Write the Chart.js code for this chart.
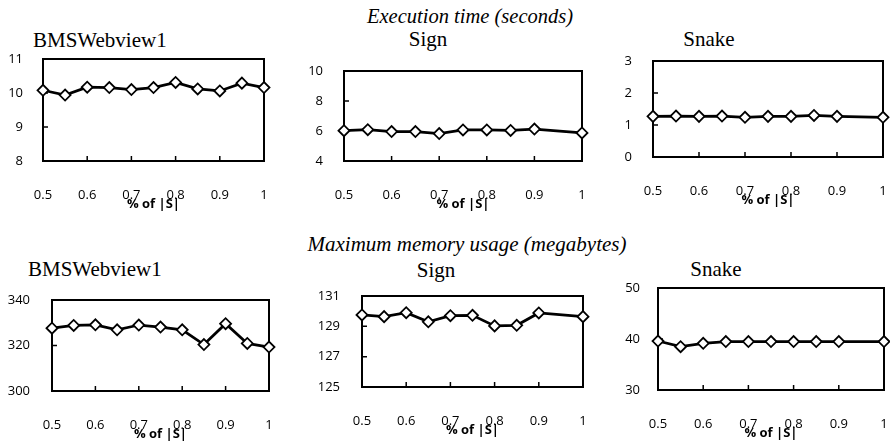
<!DOCTYPE html>
<html>
<head>
<meta charset="utf-8">
<script src="https://cdn.jsdelivr.net/npm/chart.js@4"></script>
<style>
body { margin: 0; background: #fff; width: 890px; height: 443px; overflow: hidden; position: relative; }
canvas { position: absolute; }
.t { position: absolute; font-family: "Liberation Serif", serif; font-size: 21px; line-height: 21px; color: #000; white-space: nowrap; }
.c { width: 400px; text-align: center; }
.i { font-style: italic; }
</style>
</head>
<body>
<div class="t c i" style="left:270px; top:6px; font-size:20.5px; line-height:20.5px;">Execution time (seconds)</div>
<div class="t c i" style="left:267px; top:234px;">Maximum memory usage (megabytes)</div>
<div class="t" style="left:33px; top:30px;">BMSWebview1</div>
<div class="t c" style="left:228px; top:29px;">Sign</div>
<div class="t c" style="left:509px; top:29px;">Snake</div>
<div class="t" style="left:28px; top:259px;">BMSWebview1</div>
<div class="t c" style="left:236px; top:260px;">Sign</div>
<div class="t c" style="left:516px; top:259px;">Snake</div>

<canvas id="bmsTime"></canvas>
<canvas id="signTime"></canvas>
<canvas id="snakeTime"></canvas>
<canvas id="bmsMem"></canvas>
<canvas id="signMem"></canvas>
<canvas id="snakeMem"></canvas>

<script>
// % of |S|
const xAll = [0.5, 0.55, 0.6, 0.65, 0.7, 0.75, 0.8, 0.85, 0.9, 0.95, 1];
const xNo95 = [0.5, 0.55, 0.6, 0.65, 0.7, 0.75, 0.8, 0.85, 0.9, 1];
const xTicks = [0.5, 0.6, 0.7, 0.8, 0.9, 1];

// execution time (seconds)
const bmsTime = [10.08, 9.94, 10.17, 10.16, 10.1, 10.16, 10.31, 10.12, 10.06, 10.29, 10.16];
const signTime = [6.02, 6.09, 5.96, 5.96, 5.83, 6.07, 6.07, 6.04, 6.13, 5.87];
const snakeTime = [1.27, 1.28, 1.27, 1.28, 1.24, 1.27, 1.27, 1.3, 1.27, 1.24];

// max memory (megabytes)
const bmsMem = [327.6, 328.8, 329.1, 326.9, 329.0, 328.1, 326.9, 320.4, 329.6, 320.9, 319.3];
const signMem = [129.75, 129.64, 129.9, 129.3, 129.7, 129.73, 129.03, 129.07, 129.88, 129.64];
const snakeMem = [39.6, 38.5, 39.15, 39.5, 39.5, 39.5, 39.5, 39.5, 39.5, 39.5];

const bmsTimeTicks = [8, 9, 10, 11];
const signTimeTicks = [4, 6, 8, 10];
const snakeTimeTicks = [0, 1, 2, 3];
const bmsMemTicks = [300, 320, 340];
const signMemTicks = [125, 127, 129, 131];
const snakeMemTicks = [30, 40, 50];

const Y_W = 50, PAD_TOP = 15, PAD_RIGHT = 10, X_H = 55;

// plot box: left, top, right, bottom
const panels = [
    { id: "bmsTime", xs: xAll, ys: bmsTime, yTicks: bmsTimeTicks, box: [43, 59, 264, 161], gap: 20 },
    { id: "signTime", xs: xNo95, ys: signTime, yTicks: signTimeTicks, box: [344, 71, 582, 161], gap: 21 },
    { id: "snakeTime", xs: xNo95, ys: snakeTime, yTicks: snakeTimeTicks, box: [653, 61, 883, 157], gap: 21 },
    { id: "bmsMem", xs: xAll, ys: bmsMem, yTicks: bmsMemTicks, box: [52, 300, 269, 391], gap: 22 },
    { id: "signMem", xs: xNo95, ys: signMem, yTicks: signMemTicks, box: [362, 296, 583, 387], gap: 22 },
    { id: "snakeMem", xs: xNo95, ys: snakeMem, yTicks: snakeMemTicks, box: [658, 288, 884, 390], gap: 18 }
];

// Excel-like frame with small inward tick marks
const frame = {
    id: "frame",
    beforeDatasetsDraw(chart) {
        const { ctx, chartArea: a, scales: { x, y } } = chart;
        ctx.save();
        ctx.strokeStyle = "#000";
        ctx.lineWidth = 2;
        ctx.strokeRect(a.left, a.top, a.right - a.left, a.bottom - a.top);
        ctx.lineWidth = 1.5;
        ctx.beginPath();
        x.ticks.slice(1, -1).forEach(t => {
            const px = x.getPixelForValue(t.value);
            ctx.moveTo(px, a.bottom);
            ctx.lineTo(px, a.bottom - 5);
        });
        y.ticks.slice(1, -1).forEach(t => {
            const py = y.getPixelForValue(t.value);
            ctx.moveTo(a.left, py);
            ctx.lineTo(a.left + 5, py);
        });
        ctx.stroke();
        ctx.restore();
    }
};

const tickFont = { family: "'Open Sans', sans-serif", size: 13 };

panels.forEach(p => {
    const [l, t, r, b] = p.box;
    const cv = document.getElementById(p.id);
    cv.width = Y_W + (r - l) + PAD_RIGHT;
    cv.height = PAD_TOP + (b - t) + X_H;
    cv.style.left = (l - Y_W) + "px";
    cv.style.top = (t - PAD_TOP) + "px";

    new Chart(cv, {
        type: "line",
        data: {
            datasets: [{
                data: p.xs.map((xv, i) => ({ x: xv, y: p.ys[i] })),
                borderColor: "#000",
                borderWidth: 2.75,
                pointStyle: "rectRot",
                pointRadius: 5.5,
                pointHoverRadius: 5.5,
                pointBorderWidth: 1.8,
                pointBackgroundColor: "#fff",
                pointBorderColor: "#000",
                tension: 0,
                clip: false
            }]
        },
        options: {
            responsive: false,
            animation: false,
            devicePixelRatio: 1,
            layout: { padding: { top: PAD_TOP, right: PAD_RIGHT, left: 0, bottom: 0 } },
            plugins: { legend: { display: false }, tooltip: { enabled: false } },
            scales: {
                x: {
                    type: "linear",
                    min: xTicks[0],
                    max: xTicks[xTicks.length - 1],
                    afterBuildTicks: s => { s.ticks = xTicks.map(v => ({ value: v })); },
                    // tick padding would otherwise be added to the side padding
                    afterFit: s => { s.height = X_H; s.paddingLeft = 0; s.paddingRight = 0; },
                    grid: { display: false, drawTicks: false },
                    border: { display: false },
                    ticks: { font: tickFont, color: "#000", padding: 26, maxRotation: 0, autoSkip: false, callback: v => String(v) },
                    title: { display: true, text: "% of |S|", color: "#000", font: { family: "'Open Sans', sans-serif", size: 13, weight: "bold" }, padding: { top: 0, bottom: 4 } }
                },
                y: {
                    type: "linear",
                    min: p.yTicks[0],
                    max: p.yTicks[p.yTicks.length - 1],
                    afterBuildTicks: s => { s.ticks = p.yTicks.map(v => ({ value: v })); },
                    afterFit: s => { s.width = Y_W; s.paddingTop = 0; s.paddingBottom = 0; },
                    grid: { display: false, drawTicks: false },
                    border: { display: false },
                    ticks: { font: tickFont, color: "#000", padding: p.gap }
                }
            }
        },
        plugins: [frame]
    });
});
</script>
</body>
</html>
